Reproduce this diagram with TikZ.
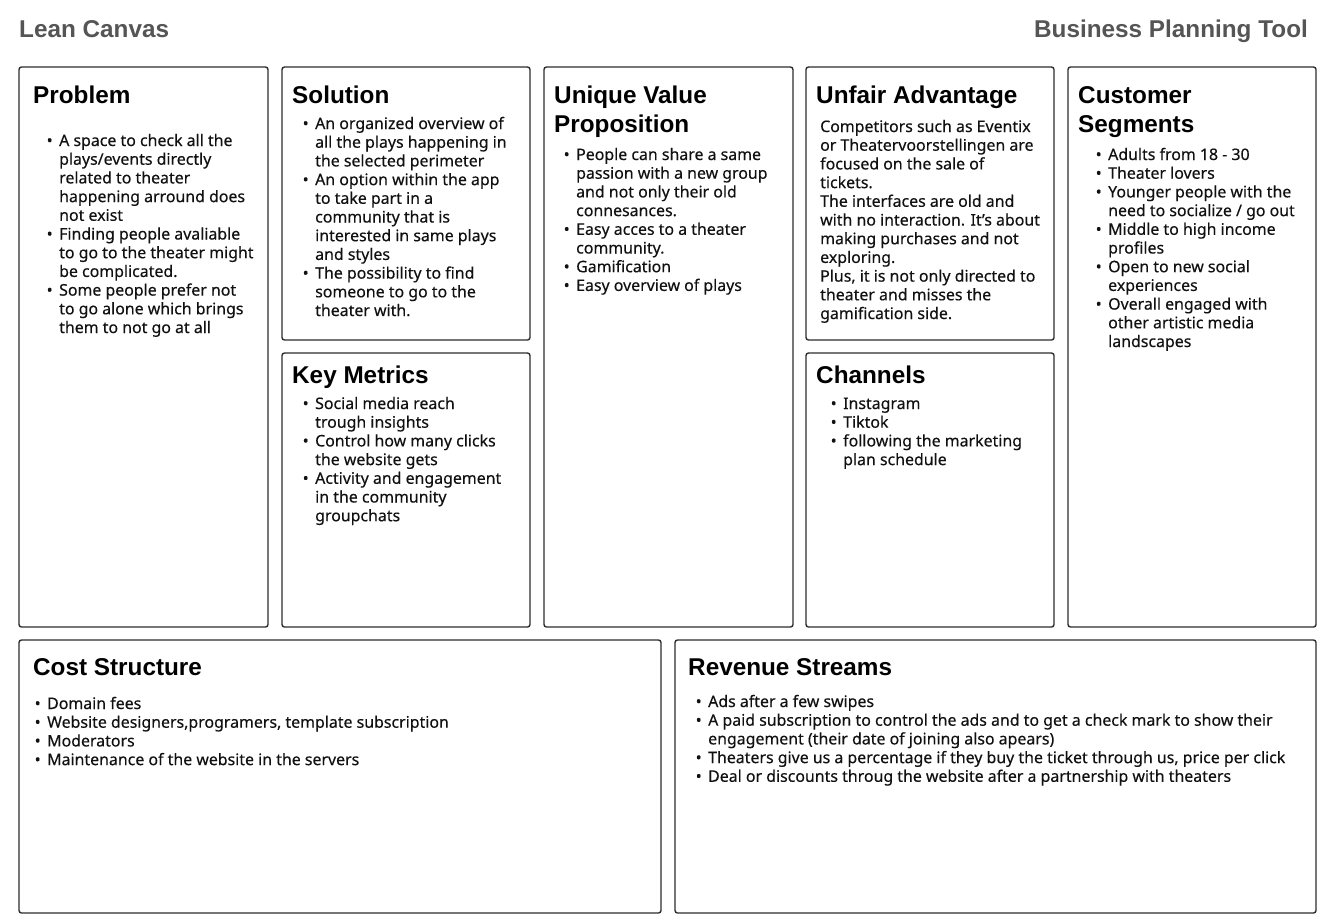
\documentclass[tikz,border=0pt]{standalone}
\usepackage{fontspec}
\setmainfont{Noto Sans}[FakeBold=0.3]
\newfontfamily\headfont{Liberation Sans}
\definecolor{boxgray}{HTML}{2E2E2E}
\definecolor{ink}{HTML}{111111}
\definecolor{headgray}{HTML}{555555}
% bulleted line start; continuation lines are broken with \\
\newcommand\itm{\par\noindent\llap{\textbullet\hspace{6.5pt}}}
% top-aligned text block whose baseline is the first line
\newcommand\blk[2]{\parbox[t]{#1}{\raggedright\setlength\parindent{0pt}#2}}
\tikzset{
  card/.style={draw=boxgray, line width=1.4pt, rounded corners=2.5pt,
    anchor=north west, inner sep=0pt, outer sep=0pt},
  heading/.style={anchor=base west, inner sep=0pt, text=black,
    font=\headfont\fontsize{24.3}{29}\selectfont\bfseries},
  body/.style={anchor=base west, inner sep=0pt, text=ink,
    font=\fontsize{15.9}{18.7}\selectfont},
  pagehead/.style={inner sep=0pt, text=headgray,
    font=\headfont\fontsize{24.3}{28}\selectfont\bfseries},
}
\begin{document}
\begin{tikzpicture}[x=1pt,y=-1pt]
\useasboundingbox[fill=white] (0,0) rectangle (1339,922);

% page header
\node[pagehead, anchor=base west] (title) at (19,37) {Lean Canvas};
\node[pagehead, anchor=base east] (tool) at (1308,37) {Business Planning Tool};

% canvas cells
\node[card, minimum width=249, minimum height=560] (problem) at (19,67) {};
\node[card, minimum width=248, minimum height=273] (solution) at (282,67) {};
\node[card, minimum width=248, minimum height=274] (metrics) at (282,353) {};
\node[card, minimum width=249, minimum height=560] (uvp) at (544,67) {};
\node[card, minimum width=248, minimum height=273] (unfair) at (806,67) {};
\node[card, minimum width=248, minimum height=274] (channels) at (806,353) {};
\node[card, minimum width=248, minimum height=560] (segments) at (1068,67) {};
\node[card, minimum width=642, minimum height=273] (cost) at (19,640) {};
\node[card, minimum width=641, minimum height=273] (revenue) at (675,640) {};

% headings
\node[heading] (hproblem) at (33,103) {Problem};
\node[heading] (hsolution) at (292,103) {Solution};
\node[heading] (huvp) at (554,103) {\blk{230pt}{Unique Value\\Proposition}};
\node[heading] (hunfair) at (816,103) {Unfair Advantage};
\node[heading] (hsegments) at (1078,103) {\blk{230pt}{Customer\\Segments}};
\node[heading] (hmetrics) at (292,383) {Key Metrics};
\node[heading] (hchannels) at (816,383) {Channels};
\node[heading] (hcost) at (33,675) {Cost Structure};
\node[heading] (hrevenue) at (688,675) {Revenue Streams};

% cell contents
\node[body] (tproblem) at (59,146) {\blk{260pt}{%
\itm A space to check all the\\plays/events directly\\related to theater\\happening arround does\\not exist
\itm Finding people avaliable\\to go to the theater might\\be complicated.
\itm Some people prefer not\\to go alone which brings\\them to not go at all}};

\node[body] (tsolution) at (315,129) {\blk{260pt}{%
\itm An organized overview of\\all the plays happening in\\the selected perimeter
\itm An option within the app\\to take part in a\\community that is\\interested in same plays\\and styles
\itm The possibility to find\\someone to go to the\\theater with.}};

\node[body] (tuvp) at (576,160) {\blk{260pt}{%
\itm People can share a same\\passion with a new group\\and not only their old\\connesances.
\itm Easy acces to a theater\\community.
\itm Gamification
\itm Easy overview of plays}};

\node[body] (tunfair) at (820,132) {\blk{260pt}{%
Competitors such as Eventix\\or Theatervoorstellingen are\\focused on the sale of\\tickets.\\The interfaces are old and\\with no interaction. It’s about\\making purchases and not\\exploring.\\Plus, it is not only directed to\\theater and misses the\\gamification side.}};

\node[body] (tsegments) at (1108,160) {\blk{260pt}{%
\itm Adults from 18 - 30
\itm Theater lovers
\itm Younger people with the\\need to socialize / go out
\itm Middle to high income\\profiles
\itm Open to new social\\experiences
\itm Overall engaged with\\other artistic media\\landscapes}};

\node[body] (tmetrics) at (315,409) {\blk{260pt}{%
\itm Social media reach\\trough insights
\itm Control how many clicks\\the website gets
\itm Activity and engagement\\in the community\\groupchats}};

\node[body] (tchannels) at (843,409) {\blk{260pt}{%
\itm Instagram
\itm Tiktok
\itm following the marketing\\plan schedule}};

\node[body] (tcost) at (47,709) {\blk{600pt}{%
\itm Domain fees
\itm Website designers,programers, template subscription
\itm Moderators
\itm Maintenance of the website in the servers}};

\node[body] (trevenue) at (708,707) {\blk{620pt}{%
\itm Ads after a few swipes
\itm A paid subscription to control the ads and to get a check mark to show their\\engagement (their date of joining also apears)
\itm Theaters give us a percentage if they buy the ticket through us, price per click
\itm Deal or discounts throug the website after a partnership with theaters}};
\end{tikzpicture}
\end{document}
